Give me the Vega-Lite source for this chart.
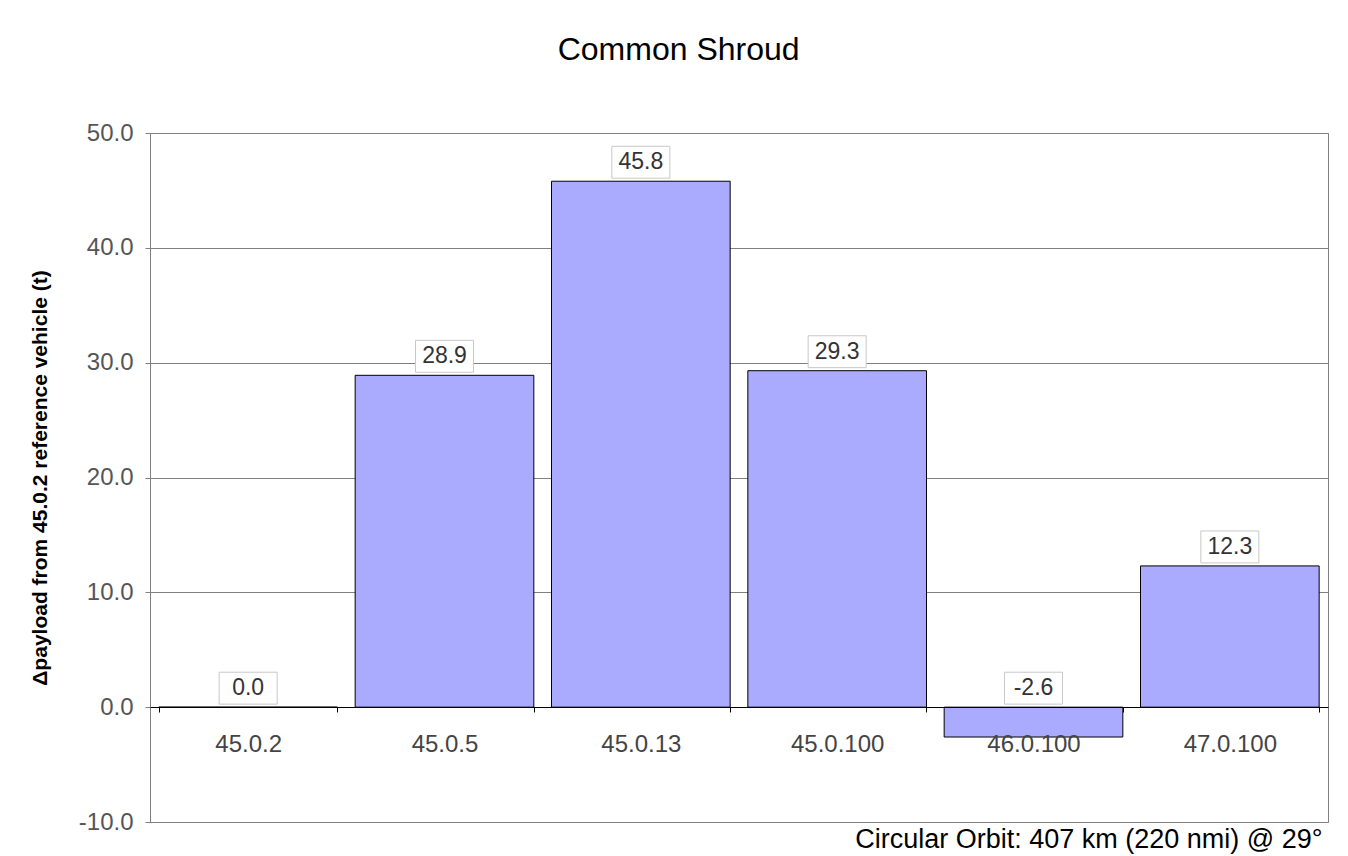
{
  "$schema": "https://vega.github.io/schema/vega-lite/v6.json",
  "width": 1178,
  "height": 689,
  "autosize": {"type": "none"},
  "padding": {"left": 150, "top": 133, "right": 20, "bottom": 34},
  "background": "white",
  "title": {
    "text": "Common Shroud",
    "fontSize": 32,
    "font": "Liberation Sans",
    "fontWeight": "normal",
    "color": "#000000",
    "anchor": "middle",
    "frame": "bounds",
    "offset": 54
  },
  "config": {
    "font": "Liberation Sans",
    "view": {"stroke": "#808080", "strokeWidth": 1}
  },
  "data": {
    "values": [
      {"cat": "45.0.2", "v": 0.0},
      {"cat": "45.0.5", "v": 28.9},
      {"cat": "45.0.13", "v": 45.8},
      {"cat": "45.0.100", "v": 29.3},
      {"cat": "46.0.100", "v": -2.6},
      {"cat": "47.0.100", "v": 12.3}
    ]
  },
  "transform": [
    {"calculate": "max(datum.v, 0)", "as": "ly"},
    {"calculate": "replace(format(datum.v, '.1f'), '\u2212', '-')", "as": "lbl"}
  ],
  "encoding": {
    "x": {
      "field": "cat",
      "type": "nominal",
      "sort": null,
      "scale": {"paddingInner": 0.09, "paddingOuter": 0.045},
      "axis": {
        "orient": "bottom",
        "offset": -115,
        "domainColor": "#000000",
        "tickColor": "#000000",
        "tickBand": "extent",
        "tickSize": 5,
        "labelAngle": 0,
        "labelFontSize": 24,
        "labelColor": "#444444",
        "labelPadding": 20,
        "title": "Circular Orbit: 407 km (220 nmi) @ 29°",
        "titleFontSize": 27,
        "titleFontWeight": "normal",
        "titleColor": "#000000",
        "titleAnchor": "end",
        "titleAlign": "right",
        "titleBaseline": "middle",
        "titleX": 1172,
        "titleY": 132,
        "zindex": 1
      }
    }
  },
  "layer": [
    {
      "mark": {"type": "bar", "fill": "#aaaaff", "stroke": "#000000", "strokeWidth": 1},
      "encoding": {
        "y": {
          "field": "v",
          "type": "quantitative",
          "scale": {"domain": [-10, 50], "nice": false},
          "axis": {
            "values": [-10, 0, 10, 20, 30, 40, 50],
            "format": ".1f",
            "labelExpr": "replace(datum.label, '\u2212', '-')",
            "grid": true,
            "gridColor": "#808080",
            "domainColor": "#808080",
            "tickColor": "#808080",
            "tickSize": 5,
            "labelFontSize": 24,
            "labelColor": "#555555",
            "labelPadding": 12,
            "title": "Δpayload from 45.0.2 reference vehicle (t)",
            "titleFontSize": 21,
            "titleFontWeight": "bold",
            "titleColor": "#000000",
            "titlePadding": 28
          }
        }
      }
    },
    {
      "mark": {
        "type": "point",
        "shape": "M-1,-0.55L1,-0.55L1,0.55L-1,0.55Z",
        "size": 3364,
        "filled": true,
        "fill": "white",
        "stroke": "#c8c8c8",
        "strokeWidth": 1,
        "opacity": 1,
        "yOffset": -19
      },
      "encoding": {
        "y": {"field": "ly", "type": "quantitative"}
      }
    },
    {
      "mark": {"type": "text", "fontSize": 23, "color": "#333333", "yOffset": -19, "baseline": "middle"},
      "encoding": {
        "y": {"field": "ly", "type": "quantitative"},
        "text": {"field": "lbl", "type": "nominal"}
      }
    }
  ]
}
